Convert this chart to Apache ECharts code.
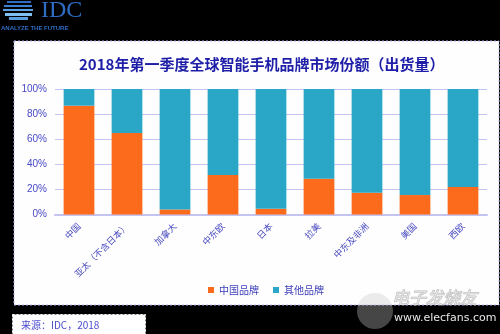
<!DOCTYPE html>
<html><head><meta charset="utf-8">
<script src="https://cdn.jsdelivr.net/npm/echarts@6/dist/echarts.min.js"></script>
<style>html,body{margin:0;padding:0;background:#000;}#c{width:500px;height:334px;}</style>
</head><body><div id="c"></div>
<script>
const categories = ['中国', '亚太（不含日本）', '加拿大', '中东欧', '日本', '拉美', '中东及非洲', '美国', '西欧'];
const chinaBrands = [86.7, 65, 4, 31.4, 4.5, 28.5, 17.3, 15.5, 21.9];
const otherBrands = [13.3, 35, 96, 68.6, 95.5, 71.5, 82.7, 84.5, 78.1];
const yTicks = [0, 20, 40, 60, 80, 100];
const seriesNames = ['中国品牌', '其他品牌'];
const titleText = '2018年第一季度全球智能手机品牌市场份额（出货量）';
const sourceText = '来源：IDC，2018';

const FONT = '"Noto Sans CJK SC", "Liberation Sans", sans-serif';
const chart = echarts.init(document.getElementById('c'), null, {renderer: 'canvas'});
chart.setOption({
  backgroundColor: '#000000',
  animation: false,
  title: {
    text: titleText, left: 74, top: 52,
    textStyle: {color: '#1e1ea8', fontSize: 15, fontWeight: 'bold', fontFamily: FONT}
  },
  legend: {
    data: seriesNames, left: 203, top: 280, itemWidth: 6, itemHeight: 6, icon: 'rect', itemGap: 14,
    textStyle: {color: '#3c3cb8', fontSize: 10, fontFamily: FONT}
  },
  grid: {left: 55, right: 13, top: 89, bottom: 119.5, containLabel: false},
  xAxis: {
    type: 'category', data: categories,
    axisLine: {lineStyle: {color: '#c4c4f0', width: 2}},
    axisTick: {show: false},
    axisLabel: {rotate: 45, color: '#4848c0', fontSize: 9, fontFamily: FONT, margin: 10, interval: 0}
  },
  yAxis: {
    type: 'value', min: yTicks[0], max: yTicks[yTicks.length - 1], interval: 20,
    axisLine: {show: false}, axisTick: {show: false},
    axisLabel: {formatter: '{value}%', color: '#4848c8', fontSize: 10, fontFamily: '"Liberation Sans", sans-serif', margin: 8},
    splitLine: {lineStyle: {color: '#c4c4f0', width: 1}}
  },
  series: [
    {name: seriesNames[0], type: 'bar', stack: 's', data: chinaBrands, barWidth: '64%',
     itemStyle: {color: '#fc6a1c'}},
    {name: seriesNames[1], type: 'bar', stack: 's', data: otherBrands, barWidth: '64%',
     itemStyle: {color: '#2aa6c6'}}
  ],
  graphic: [
    {type: 'rect', z: -10, shape: {x: 14, y: 41, width: 485, height: 264},
     style: {fill: '#fdfefd', stroke: '#b4b4f0', lineWidth: 1, lineDash: [2, 2]}},
    // source box
    {type: 'rect', shape: {x: 12.5, y: 314.5, width: 133, height: 22},
     style: {fill: '#ffffff', stroke: '#ffffff', lineWidth: 1, lineDash: [2, 2]}},
    {type: 'text', x: 21, y: 325, style: {text: sourceText, fill: '#4a4ad0', font: '10px ' + FONT, verticalAlign: 'middle'}},
    // IDC logo
    {type: 'text', x: 41, y: -1, style: {text: 'IDC', fill: '#2e6cc4', font: '24px "Liberation Serif", serif'}},
    {type: 'text', x: 1, y: 25, style: {text: 'ANALYZE THE FUTURE', fill: '#2e6cc4', font: 'bold 6px "Liberation Sans", sans-serif'}},
    {type: 'rect', shape: {x: 7, y: 1, width: 24, height: 2}, style: {fill: '#2e6cc4'}},
    {type: 'rect', shape: {x: 4, y: 5, width: 28, height: 2}, style: {fill: '#3a80d0'}},
    {type: 'rect', shape: {x: 3, y: 9, width: 30, height: 2}, style: {fill: '#5aa0e0'}},
    {type: 'rect', shape: {x: 5, y: 13, width: 27, height: 3}, style: {fill: '#80c0f0'}},
    {type: 'rect', shape: {x: 9, y: 17, width: 19, height: 3}, style: {fill: '#5aa0e0'}},
    // watermark
    {type: 'circle', shape: {cx: 375, cy: 311, r: 18}, style: {fill: 'rgba(200,200,200,0.35)'}},
    {type: 'text', x: 392, y: 289, style: {text: '电子发烧友', fill: 'rgba(235,235,235,0.7)', stroke: 'rgba(120,120,120,0.5)', lineWidth: 1, font: 'italic 17px ' + FONT}},
    {type: 'text', x: 394, y: 313, style: {text: 'www.elecfans.com', fill: '#e8e8e8', font: '11px "DejaVu Sans", sans-serif'}}
  ]
});
</script></body></html>
